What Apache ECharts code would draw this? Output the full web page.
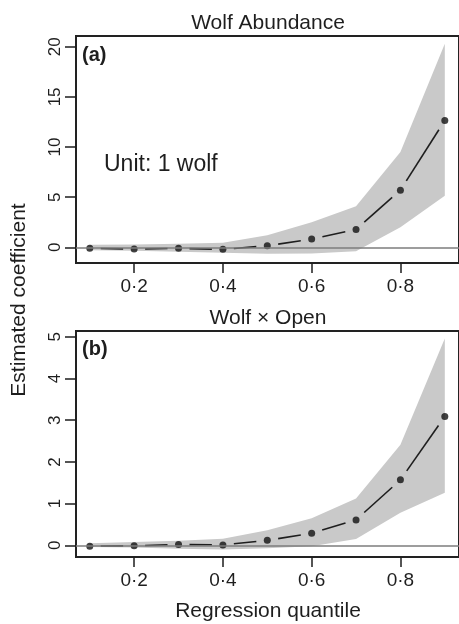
<!DOCTYPE html>
<html>
<head>
<meta charset="utf-8">
<script src="https://cdn.jsdelivr.net/npm/echarts@6/dist/echarts.min.js"></script>
<style>
  html, body { margin: 0; padding: 0; background: #fff; }
  #chart { width: 459px; height: 624px; }
</style>
</head>
<body>
<div id="chart"></div>
<script>
// regression quantiles (x)
var quantiles = [0.1, 0.2, 0.3, 0.4, 0.5, 0.6, 0.7, 0.8, 0.9];
var xTicks = [0.2, 0.4, 0.6, 0.8];

// (a) Wolf Abundance
var abundEst   = [-0.1, -0.17, -0.1, -0.2, 0.16, 0.83, 1.79, 5.7, 12.65];
var abundUpper = [0.25, 0.28, 0.35, 0.46, 1.2, 2.5, 4.1, 9.5, 20.3];
var abundLower = [-0.3, -0.33, -0.45, -0.55, -0.65, -0.62, -0.4, 2.0, 5.15];
var abundTicks = [0, 5, 10, 15, 20];

// (b) Wolf x Open
var openEst   = [-0.02, -0.01, 0.02, 0.01, 0.12, 0.29, 0.61, 1.57, 3.09];
var openUpper = [0.05, 0.08, 0.11, 0.16, 0.36, 0.65, 1.12, 2.41, 4.96];
var openLower = [-0.04, -0.05, -0.08, -0.1, -0.07, -0.02, 0.15, 0.78, 1.26];
var openTicks = [0, 1, 2, 3, 4, 5];

var FONT = "'Liberation Sans', Arial, Helvetica, sans-serif";
var INK = "#1e1e1e";
var BAND = "#c9c9c9";

var myChart = echarts.init(document.getElementById("chart"));

function pairs(ys) {
    return quantiles.map(function (q, i) { return [q, ys[i]]; });
}

function xAxisFor(gi) {
    return {
        type: "value", gridIndex: gi, min: 0.069, max: 0.932,
        axisLine: { show: false, onZero: false },
        splitLine: { show: false },
        axisTick: { show: true, length: 10, customValues: xTicks,
            lineStyle: { color: INK, width: 1.5 } },
        axisLabel: { show: true, customValues: xTicks, margin: 14,
            fontFamily: FONT, fontSize: 19, color: INK,
            formatter: function (v) { return v.toFixed(1).replace(".", "\u00b7"); } }
    };
}

function yAxisFor(gi, min, max, ticks) {
    return {
        type: "value", gridIndex: gi, min: min, max: max,
        axisLine: { show: false, onZero: false },
        splitLine: { show: false },
        axisTick: { show: true, length: 11, customValues: ticks,
            lineStyle: { color: INK, width: 1.5 } },
        axisLabel: { show: true, customValues: ticks, rotate: 90, margin: 12,
            fontFamily: FONT, fontSize: 17, color: INK }
    };
}

// confidence band: one polygon through the upper then the lower bounds
function bandSeries(gi, lower, upper) {
    return {
        type: "custom", xAxisIndex: gi, yAxisIndex: gi, silent: true, z: 1,
        data: pairs(upper),
        renderItem: function (params, api) {
            if (params.dataIndex !== 0) return null;
            var pts = [];
            quantiles.forEach(function (q, i) { pts.push(api.coord([q, upper[i]])); });
            for (var i = quantiles.length - 1; i >= 0; i--) {
                pts.push(api.coord([quantiles[i], lower[i]]));
            }
            return { type: "polygon", shape: { points: pts }, style: { fill: BAND } };
        }
    };
}

// line pieces between the points, with a gap round each point (R type="b")
function segmentSeries(gi, ys) {
    var gap = 11;
    return {
        type: "custom", xAxisIndex: gi, yAxisIndex: gi, silent: true, z: 3,
        data: pairs(ys),
        renderItem: function (params, api) {
            var i = params.dataIndex;
            if (i >= quantiles.length - 1) return null;
            var p0 = api.coord([api.value(0), api.value(1)]);
            var p1 = api.coord([quantiles[i + 1], ys[i + 1]]);
            var dx = p1[0] - p0[0], dy = p1[1] - p0[1];
            var len = Math.sqrt(dx * dx + dy * dy);
            if (len <= 2 * gap + 1) return null;
            var ux = dx / len, uy = dy / len;
            return {
                type: "line",
                shape: { x1: p0[0] + ux * gap, y1: p0[1] + uy * gap,
                         x2: p1[0] - ux * gap, y2: p1[1] - uy * gap },
                style: { stroke: INK, lineWidth: 1.6 }
            };
        }
    };
}

function panelSeries(gi, est, lower, upper) {
    return [
        bandSeries(gi, lower, upper),
        segmentSeries(gi, est),
        { type: "scatter", xAxisIndex: gi, yAxisIndex: gi, data: pairs(est), z: 4,
          symbol: "circle", symbolSize: 7, silent: true,
          itemStyle: { color: "#111" },
          markLine: { silent: true, symbol: ["none", "none"], label: { show: false },
              lineStyle: { color: "#7d7d7d", width: 1.6, type: "solid" },
              data: [{ yAxis: 0 }] } }
    ];
}

function label(text, x, y, size, opts) {
    opts = opts || {};
    return {
        type: "text", x: x, y: y, rotation: opts.rotation || 0, silent: true,
        style: { text: text, fontFamily: FONT, fontSize: size,
            fontWeight: opts.bold ? "bold" : "normal", fill: INK,
            textAlign: opts.align || "center", textVerticalAlign: "middle" }
    };
}

var option = {
    animation: false,
    backgroundColor: "#fff",
    grid: [
        { left: 76, top: 36, width: 385, height: 227, show: true,
          borderColor: "#222", borderWidth: 2, backgroundColor: "transparent" },
        { left: 76, top: 331, width: 385, height: 226, show: true,
          borderColor: "#222", borderWidth: 2, backgroundColor: "transparent" }
    ],
    xAxis: [xAxisFor(0), xAxisFor(1)],
    yAxis: [yAxisFor(0, -1.56, 21.07, abundTicks), yAxisFor(1, -0.28, 5.14, openTicks)],
    series: panelSeries(0, abundEst, abundLower, abundUpper)
        .concat(panelSeries(1, openEst, openLower, openUpper)),
    graphic: [
        label("Wolf Abundance", 268, 23, 21),
        label("Wolf \u00d7 Open", 268, 318, 21),
        label("(a)", 82, 55, 20, { bold: true, align: "left" }),
        label("(b)", 82, 349, 20, { bold: true, align: "left" }),
        label("Unit: 1 wolf", 104, 165, 23, { align: "left" }),
        label("Estimated coefficient", 19, 300, 21, { rotation: Math.PI / 2 }),
        label("Regression quantile", 268, 611, 21)
    ]
};

myChart.setOption(option);
</script>
</body>
</html>
